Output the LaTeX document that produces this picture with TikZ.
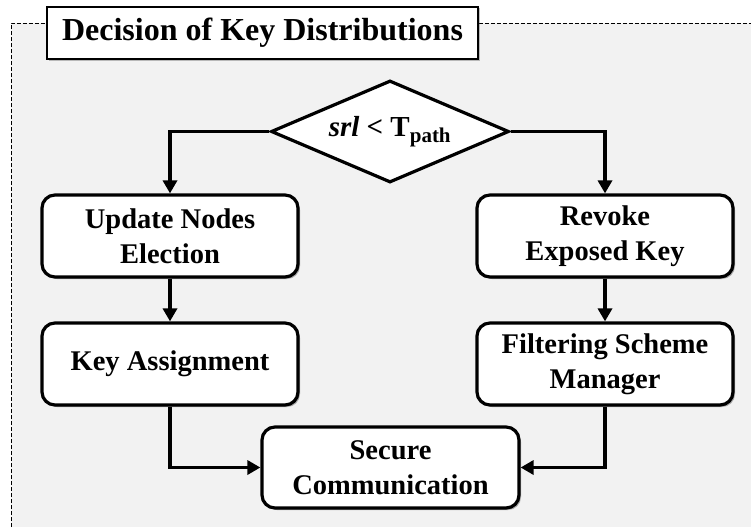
\documentclass[tikz,border=0pt]{standalone}
\usepackage{fontspec}
\setmainfont{Liberation Serif}
\usetikzlibrary{shapes.geometric,arrows.meta,shadows}
\definecolor{bgray}{HTML}{F2F2F2}
\tikzset{
  stepbox/.style={draw=black, line width=3.2pt, rounded corners=13pt, fill=white,
    minimum width=256pt, minimum height=82pt, align=center, inner sep=2pt,
    font=\fontsize{28.5}{35}\selectfont\bfseries,
    drop shadow={shadow xshift=2pt, shadow yshift=-2pt, opacity=0.45, fill=black!70}},
  titlebox/.style={draw=black, line width=1.6pt, fill=white, minimum width=431pt,
    minimum height=52pt, inner sep=0pt, font=\fontsize{32}{34}\selectfont\bfseries,
    drop shadow={shadow xshift=1.5pt, shadow yshift=-1.5pt, opacity=0.35, fill=black!70}},
  decbox/.style={shape=diamond, draw=black, line width=3.2pt, fill=white,
    minimum width=238pt, minimum height=102pt, inner sep=0pt, aspect=2.33,
    font=\fontsize{29}{32}\selectfont\bfseries},
  conn/.style={line width=3.6pt, -{Triangle[length=13pt,width=14pt]}}
}
\begin{document}
\begin{tikzpicture}[x=1pt,y=-1pt]
\useasboundingbox (0,0) rectangle (751,527);
\fill[white] (0,0) rectangle (751,527);
\fill[bgray] (11,23) rectangle (751,527);
\draw[line width=0.9pt, dash pattern=on 4pt off 2pt] (11,527) -- (11,23) -- (751,23);
\node[titlebox] (title) at (262.5,33) {Decision of Key Distributions};
\node[decbox] (dec) at (390,131.5) {\textit{srl} < T\textsubscript{\fontsize{21}{22}\selectfont path}};
\node[stepbox] (upd) at (170,236) {Update Nodes\\Election};
\node[stepbox] (key) at (170,364) {Key Assignment};
\node[stepbox] (rev) at (605,236) {Revoke\\Exposed Key};
\node[stepbox] (filt) at (605,364) {Filtering Scheme\\Manager};
\node[stepbox, minimum width=257pt, minimum height=81pt] (sec) at (390.5,467.5) {Secure\\Communication};
\draw[conn] (dec.west) -| (upd.north);
\draw[conn] (dec.east) -| (rev.north);
\draw[conn] (upd.south) -- (key.north);
\draw[conn] (rev.south) -- (filt.north);
\draw[conn] (key.south) |- (sec.west);
\draw[conn] (filt.south) |- (sec.east);
\end{tikzpicture}
\end{document}
